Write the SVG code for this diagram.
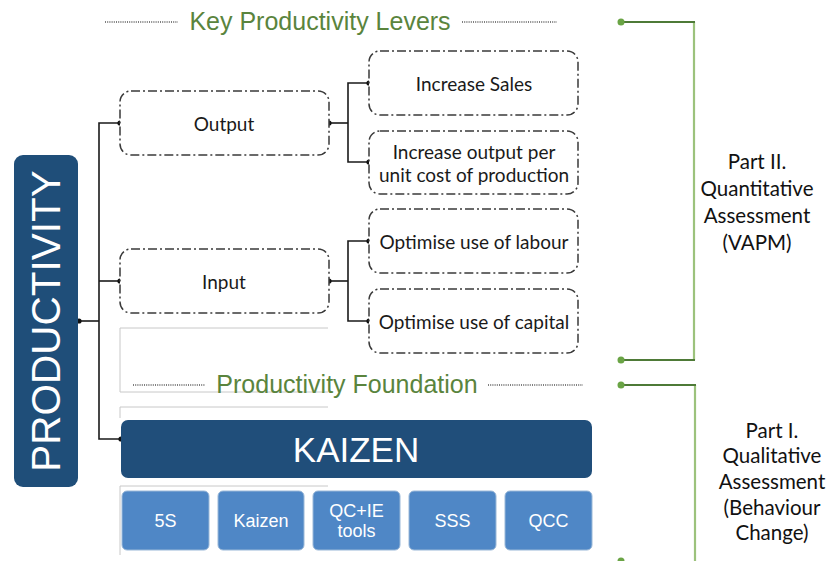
<svg xmlns="http://www.w3.org/2000/svg" width="829" height="561" viewBox="0 0 829 561">
<defs>
<style>
.lever{fill:#fff;stroke:#3a3a3a;stroke-width:1.5;stroke-dasharray:9 3 2 3}
.lt{font-family:Lato,"Liberation Sans",sans-serif;font-size:19px;fill:#1a1a1a;text-anchor:middle;dominant-baseline:central}
.side{font-family:Lato,"Liberation Sans",sans-serif;font-size:20.5px;fill:#111;text-anchor:middle;dominant-baseline:central}
.ttl{font-family:"Liberation Sans",Arial,sans-serif;font-size:25px;fill:#5a843d;text-anchor:middle}
.dot{stroke:#555;stroke-width:1.3;stroke-dasharray:1 1.2;fill:none}
.conn{stroke:#1a1a1a;stroke-width:1.6;fill:none}
.jd{fill:#111}
.frame{stroke:#c8c8c8;stroke-width:1;fill:none}
.tool{fill:#4f87c6;stroke:#9ab8d8;stroke-width:1}
.tt{font-family:"Liberation Sans",Arial,sans-serif;font-size:18px;fill:#fff;text-anchor:middle;dominant-baseline:central}
.gh{stroke:#4e7a37;stroke-width:2.2;fill:none}
.gv{stroke:#9cc27c;stroke-width:2.2;fill:none}
.gd{fill:#6aa445}
</style>
</defs>

<!-- faint frame artifacts -->
<g id="frames">
<path class="frame" d="M328 328 H120 V392 H328"/>
<path class="frame" d="M328 407 H120 V418"/>
<path class="frame" d="M328 486 H120 V555"/>
</g>

<!-- titles -->
<g id="title-levers">
<line class="dot" x1="105" y1="22" x2="178" y2="22"/>
<text class="ttl" x="320" y="30">Key Productivity Levers</text>
<line class="dot" x1="462" y1="22" x2="557" y2="22"/>
</g>
<g id="title-foundation">
<line class="dot" x1="133" y1="385" x2="205" y2="385"/>
<text class="ttl" x="347" y="393">Productivity Foundation</text>
<line class="dot" x1="488" y1="385" x2="583" y2="385"/>
</g>

<!-- connectors -->
<g id="connectors">
<path class="conn" d="M79 321 H99"/>
<path class="conn" d="M120 123 H99 V439 H121"/>
<path class="conn" d="M99 281 H120"/>
<path class="conn" d="M329 123 H348"/>
<path class="conn" d="M369 83 H348 V162 H369"/>
<path class="conn" d="M329 281 H348"/>
<path class="conn" d="M369 241 H348 V321 H369"/>
<circle class="jd" cx="79" cy="321" r="2.6"/>
<circle class="jd" cx="120" cy="123" r="2.6"/>
<circle class="jd" cx="120" cy="281" r="2.6"/>
<circle class="jd" cx="121" cy="439" r="2.6"/>
<circle class="jd" cx="329" cy="123" r="2.6"/>
<circle class="jd" cx="329" cy="281" r="2.6"/>
<circle class="jd" cx="369" cy="83" r="2.6"/>
<circle class="jd" cx="369" cy="162" r="2.6"/>
<circle class="jd" cx="369" cy="241" r="2.6"/>
<circle class="jd" cx="369" cy="321" r="2.6"/>
</g>

<!-- PRODUCTIVITY -->
<g id="productivity">
<rect x="14" y="155" width="64" height="332" rx="9" fill="#1f4e79"/>
<text x="46" y="321" transform="rotate(-90 46 321)" font-family="'Liberation Sans',Arial,sans-serif" font-size="40.5" fill="#fff" text-anchor="middle" dominant-baseline="central">PRODUCTIVITY</text>
</g>

<g id="output">
<rect class="lever" x="120" y="91" width="209" height="64" rx="11"/>
<text class="lt" x="224" y="123">Output</text>
</g>
<g id="input">
<rect class="lever" x="120" y="249" width="209" height="64" rx="11"/>
<text class="lt" x="224" y="281">Input</text>
</g>
<g id="increase-sales">
<rect class="lever" x="369" y="51" width="209" height="64" rx="11"/>
<text class="lt" x="474" y="83">Increase Sales</text>
</g>
<g id="increase-output">
<rect class="lever" x="369" y="131" width="209" height="63" rx="11"/>
<text class="lt" x="474" y="151">Increase output per</text>
<text class="lt" x="474" y="174">unit cost of production</text>
</g>
<g id="optimise-labour">
<rect class="lever" x="369" y="209" width="209" height="64" rx="11"/>
<text class="lt" x="474" y="241">Optimise use of labour</text>
</g>
<g id="optimise-capital">
<rect class="lever" x="369" y="289" width="209" height="64" rx="11"/>
<text class="lt" x="474" y="321">Optimise use of capital</text>
</g>

<g id="kaizen-bar">
<rect x="121" y="420" width="471" height="58" rx="7" fill="#204e7a"/>
<text x="356" y="449" font-family="'Liberation Sans',Arial,sans-serif" font-size="35" fill="#fff" text-anchor="middle" dominant-baseline="central">KAIZEN</text>
</g>

<g id="tool-5s"><rect class="tool" x="122" y="491" width="87" height="59" rx="5"/><text class="tt" x="165.5" y="521">5S</text></g>
<g id="tool-kaizen"><rect class="tool" x="218" y="491" width="86" height="59" rx="5"/><text class="tt" x="261" y="521">Kaizen</text></g>
<g id="tool-qcie"><rect class="tool" x="313" y="491" width="87" height="59" rx="5"/><text class="tt" x="356.5" y="511">QC+IE</text><text class="tt" x="356.5" y="531">tools</text></g>
<g id="tool-sss"><rect class="tool" x="409" y="491" width="87" height="59" rx="5"/><text class="tt" x="452.5" y="521">SSS</text></g>
<g id="tool-qcc"><rect class="tool" x="505" y="491" width="87" height="59" rx="5"/><text class="tt" x="548.5" y="521">QCC</text></g>

<g id="bracket-part2">
<path class="gv" d="M694 22 V360"/>
<path class="gh" d="M621 22 H695"/>
<path class="gh" d="M621 360 H695"/>
<circle class="gd" cx="621" cy="22" r="3.5"/>
<circle class="gd" cx="621" cy="360" r="3.5"/>
<text class="side" x="757" y="161">Part II.</text>
<text class="side" x="757" y="188">Quantitative</text>
<text class="side" x="757" y="215">Assessment</text>
<text class="side" x="757" y="242">(VAPM)</text>
</g>

<g id="bracket-part1">
<path class="gv" d="M695 385 V561"/>
<path class="gh" d="M621 385 H696"/>
<circle class="gd" cx="621" cy="385" r="3.5"/>
<circle class="gd" cx="621" cy="561" r="3.5"/>
<text class="side" x="772" y="430">Part I.</text>
<text class="side" x="772" y="455">Qualitative</text>
<text class="side" x="772" y="481">Assessment</text>
<text class="side" x="772" y="507">(Behaviour</text>
<text class="side" x="772" y="532">Change)</text>
</g>
</svg>
